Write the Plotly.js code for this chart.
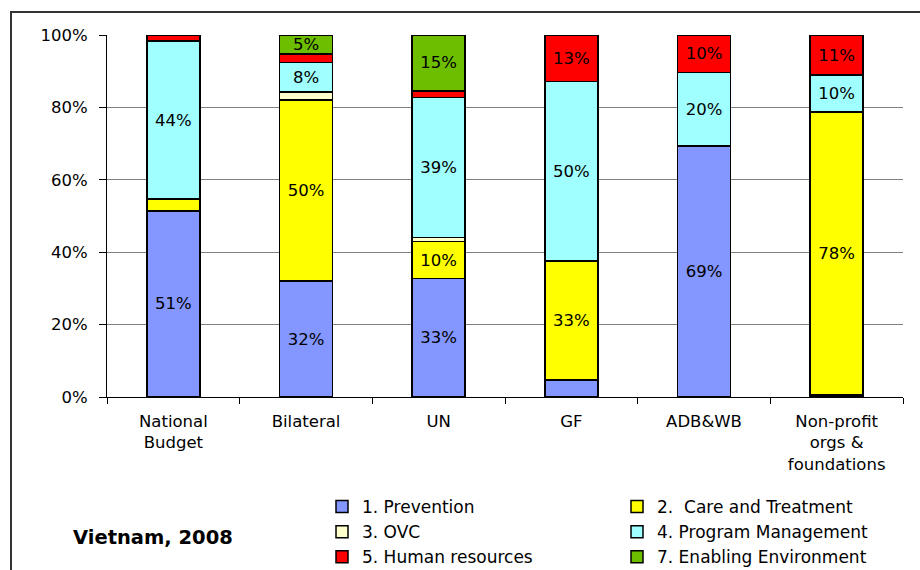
<!DOCTYPE html>
<html>
<head>
<meta charset="utf-8">
<script src="https://cdn.plot.ly/plotly-3.0.1.min.js"></script>
<style>
  html, body { margin: 0; padding: 0; background: #fff; }
  #chart { width: 920px; height: 570px; }
</style>
</head>
<body>
<div id="chart"></div>
<script>
// Categories (x axis tick labels)
const categories = ['National<br>Budget', 'Bilateral', 'UN', 'GF', 'ADB&WB', 'Non-profit<br>orgs &<br>foundations'];

// Series values, percent of each source's spending
const prevention = [51.4, 32.0, 32.7, 4.7, 69.3, 0.5];
const careTreatment = [3.3, 50.0, 10.2, 32.9, 0.0, 78.1];
const ovc = [0.0, 2.2, 1.2, 0.0, 0.0, 0.3];
const programMgmt = [43.6, 8.2, 38.7, 49.5, 20.4, 10.0];
const humanResources = [1.7, 2.3, 1.8, 12.9, 10.3, 11.1];
const enablingEnv = [0.0, 5.3, 15.4, 0.0, 0.0, 0.0];

const seriesNames = ['1. Prevention', '2.  Care and Treatment', '3. OVC', '4. Program Management', '5. Human resources', '7. Enabling Environment'];
const seriesValues = [prevention, careTreatment, ovc, programMgmt, humanResources, enablingEnv];
const seriesColors = ['#8496FF', '#FFFF00', '#FFFFCC', '#A0FFFF', '#FF0000', '#6EBE00'];
const legendFor = ['legend', 'legend2', 'legend', 'legend2', 'legend', 'legend2'];

const FONT = 'DejaVu Sans, Arial, sans-serif';

const traces = seriesValues.map((vals, i) => ({
  type: 'bar',
  name: seriesNames[i],
  x: categories,
  y: vals,
  legend: legendFor[i],
  marker: { color: seriesColors[i], line: { color: '#000', width: 1.5 } },
  text: vals.map(v => v >= 5 ? Math.round(v) + '%' : ''),
  textposition: 'inside',
  insidetextanchor: 'middle',
  textangle: 0,
  constraintext: 'none',
  textfont: { family: FONT, size: 16.5, color: '#000' },
  hoverinfo: 'name+y'
}));

const layout = {
  width: 920,
  height: 570,
  margin: { l: 107, r: 17, t: 35, b: 173, autoexpand: false },
  paper_bgcolor: '#fff',
  plot_bgcolor: '#fff',
  barmode: 'stack',
  bargap: 0.6,
  font: { family: FONT, size: 16.5, color: '#000' },
  title: {
    text: '<b>Vietnam, 2008</b>',
    font: { family: FONT, size: 19.5, color: '#000' },
    xref: 'container', yref: 'container',
    x: 73 / 920, xanchor: 'left',
    y: 1 - 537 / 570, yanchor: 'middle'
  },
  xaxis: {
    type: 'category',
    showline: true, linecolor: '#000', linewidth: 1,
    ticks: 'outside', ticklen: 6, tickcolor: '#000', tickwidth: 1,
    tickson: 'boundaries',
    showgrid: false,
    tickfont: { family: FONT, size: 16.5, color: '#000' },
    ticklabelstandoff: 9
  },
  yaxis: {
    range: [0, 100],
    dtick: 20,
    ticksuffix: '%',
    showline: true, linecolor: '#000', linewidth: 1,
    ticks: 'outside', ticklen: 7, tickcolor: '#000', tickwidth: 1,
    showgrid: true, gridcolor: '#808080', gridwidth: 1,
    zeroline: false,
    tickfont: { family: FONT, size: 16.5, color: '#000' },
    ticklabelstandoff: 8
  },
  showlegend: true,
  legend: {
    orientation: 'v',
    traceorder: 'normal',
    x: (322 - 107) / 796, xanchor: 'left',
    y: (397 - 489) / 362, yanchor: 'top',
    font: { family: FONT, size: 17, color: '#000' },
    bgcolor: 'rgba(0,0,0,0)'
  },
  legend2: {
    orientation: 'v',
    traceorder: 'normal',
    x: (617 - 107) / 796, xanchor: 'left',
    y: (397 - 489) / 362, yanchor: 'top',
    font: { family: FONT, size: 17, color: '#000' },
    bgcolor: 'rgba(0,0,0,0)'
  },
  shapes: [{
    type: 'rect', xref: 'paper', yref: 'paper',
    x0: (11 - 107) / 796, x1: 1.5,
    y0: -1.0, y1: (397 - 12) / 362,
    line: { color: '#333', width: 2 },
    fillcolor: 'rgba(0,0,0,0)',
    layer: 'below'
  }]
};

Plotly.newPlot('chart', traces, layout, { displayModeBar: false, responsive: false });
</script>
</body>
</html>
